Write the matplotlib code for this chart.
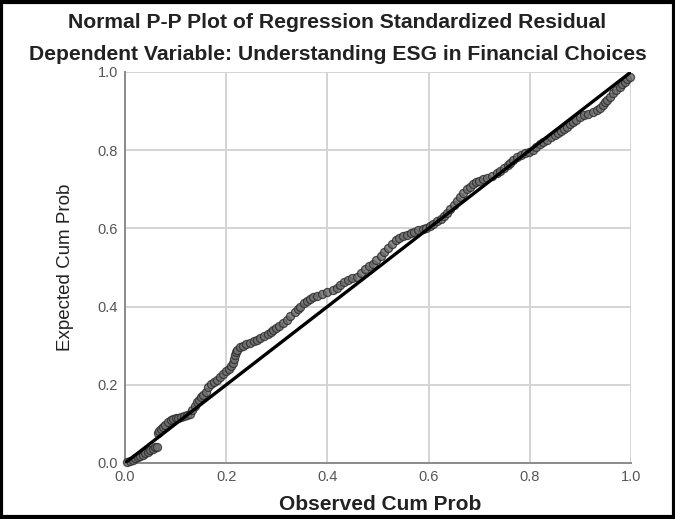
import matplotlib
matplotlib.use('Agg')
import matplotlib.pyplot as plt
from matplotlib.patches import Rectangle

plt.rcParams['font.family'] = ['Liberation Sans', 'DejaVu Sans']

TITLE = 'Normal P-P Plot of Regression Standardized Residual'
SUBTITLE = 'Dependent Variable: Understanding ESG in Financial Choices'
XLABEL = 'Observed Cum Prob'
YLABEL = 'Expected Cum Prob'
TICKS = [0.0, 0.2, 0.4, 0.6, 0.8, 1.0]

# observed vs expected cumulative probability
observed = [
  0.004, 0.010, 0.015, 0.020, 0.025, 0.030, 0.035, 0.040, 0.045, 0.050, 0.055, 0.060, 0.064,
  0.065, 0.068, 0.072, 0.076, 0.080, 0.085, 0.090, 0.095, 0.100, 0.105, 0.110, 0.116, 0.122,
  0.128, 0.133, 0.138, 0.142, 0.146, 0.150, 0.155, 0.160, 0.165, 0.170, 0.176, 0.182, 0.188,
  0.194, 0.200, 0.205, 0.210, 0.213, 0.215, 0.217, 0.219, 0.222, 0.227, 0.233, 0.240, 0.247,
  0.254, 0.260, 0.267, 0.275, 0.282, 0.288, 0.293, 0.299, 0.305, 0.312, 0.320, 0.327, 0.335,
  0.341, 0.346, 0.353, 0.360, 0.366, 0.372, 0.380, 0.390, 0.400, 0.411, 0.418, 0.425, 0.432,
  0.440, 0.449, 0.458, 0.466, 0.475, 0.482, 0.490, 0.497, 0.505, 0.512, 0.520, 0.527, 0.535,
  0.542, 0.550, 0.557, 0.565, 0.572, 0.580, 0.588, 0.595, 0.602, 0.609, 0.617, 0.625, 0.630,
  0.636, 0.643, 0.650, 0.656, 0.662, 0.668, 0.675, 0.681, 0.688, 0.694, 0.700, 0.707, 0.715,
  0.725, 0.735, 0.742, 0.750, 0.756, 0.761, 0.767, 0.774, 0.782, 0.790, 0.798, 0.806, 0.813,
  0.820, 0.827, 0.834, 0.842, 0.850, 0.856, 0.862, 0.868, 0.873, 0.880, 0.886, 0.892, 0.899,
  0.907, 0.915, 0.924, 0.932, 0.938, 0.945, 0.949, 0.952, 0.958, 0.965, 0.971, 0.978, 0.983,
  0.988, 0.993, 0.998]
expected = [
  0.002, 0.005, 0.008, 0.012, 0.015, 0.018, 0.021, 0.025, 0.028, 0.032, 0.036, 0.040, 0.042,
  0.078, 0.083, 0.088, 0.093, 0.098, 0.104, 0.109, 0.112, 0.114, 0.116, 0.118, 0.120, 0.122,
  0.126, 0.135, 0.145, 0.155, 0.162, 0.168, 0.175, 0.182, 0.195, 0.203, 0.208, 0.213, 0.220,
  0.228, 0.235, 0.240, 0.248, 0.256, 0.266, 0.276, 0.285, 0.290, 0.296, 0.300, 0.304, 0.308,
  0.312, 0.315, 0.320, 0.325, 0.330, 0.335, 0.340, 0.345, 0.350, 0.357, 0.366, 0.375, 0.385,
  0.393, 0.400, 0.408, 0.415, 0.420, 0.425, 0.428, 0.432, 0.437, 0.442, 0.448, 0.455, 0.462,
  0.468, 0.472, 0.476, 0.485, 0.495, 0.503, 0.510, 0.519, 0.530, 0.540, 0.550, 0.560, 0.570,
  0.576, 0.580, 0.584, 0.588, 0.592, 0.595, 0.598, 0.602, 0.607, 0.612, 0.618, 0.625, 0.632,
  0.640, 0.650, 0.660, 0.670, 0.680, 0.690, 0.700, 0.707, 0.714, 0.718, 0.722, 0.726, 0.729,
  0.735, 0.741, 0.748, 0.755, 0.762, 0.768, 0.775, 0.782, 0.788, 0.792, 0.796, 0.800, 0.808,
  0.815, 0.820, 0.826, 0.833, 0.840, 0.845, 0.850, 0.855, 0.860, 0.866, 0.872, 0.878, 0.884,
  0.889, 0.893, 0.898, 0.903, 0.909, 0.915, 0.922, 0.928, 0.936, 0.945, 0.954, 0.962, 0.969,
  0.975, 0.981, 0.987]

fig = plt.figure(figsize=(6.75, 5.19), dpi=100)
ax = fig.add_axes([0.1852, 0.1079, 0.7496, 0.7534])

ax.grid(True, color='#d4d4d4', lw=1.4)
ax.set_axisbelow(True)
ax.scatter(observed, expected, s=34, facecolor='#6e6e6e', edgecolor='#2a2a2a',
           lw=0.9, alpha=0.8, zorder=3, clip_on=False)
ax.plot([0, 1], [0, 1], color='black', lw=2.4, zorder=4, solid_capstyle='butt')

ax.set_xlim(0, 1); ax.set_ylim(0, 1)
ax.set_xticks(TICKS); ax.set_yticks(TICKS)
ax.set_xticklabels([f'{t:.1f}' for t in TICKS])
ax.set_yticklabels([f'{t:.1f}' for t in TICKS])
ax.tick_params(colors='#555555', labelcolor='#555555', labelsize=10.5, length=0, pad=5)
for s in ('top', 'right'):
  ax.spines[s].set_visible(False)
for s in ('left', 'bottom'):
  ax.spines[s].set_color('#8a8a8a'); ax.spines[s].set_linewidth(1.4)

# axis titles placed where the reference has them
fig.text(0.563, 1 - 505 / 519, XLABEL, ha='center', va='center', fontsize=15,
         fontweight='bold', color='#222222')
fig.text(65 / 675, 1 - 267 / 519, YLABEL, ha='center', va='center', fontsize=13.5,
         rotation=90, color='#222222')

fig.text(0.5, 1 - 23 / 519, TITLE, ha='center', va='center', fontsize=15.2,
         fontweight='bold', color='#222222')
fig.text(0.5, 1 - 54 / 519, SUBTITLE, ha='center', va='center', fontsize=15.2,
         fontweight='bold', color='#222222')

fig.patches.append(Rectangle((0.002, 0.003), 0.996, 0.994, transform=fig.transFigure,
                             fill=False, ec='black', lw=3))
fig.savefig('out.png', dpi=100)
